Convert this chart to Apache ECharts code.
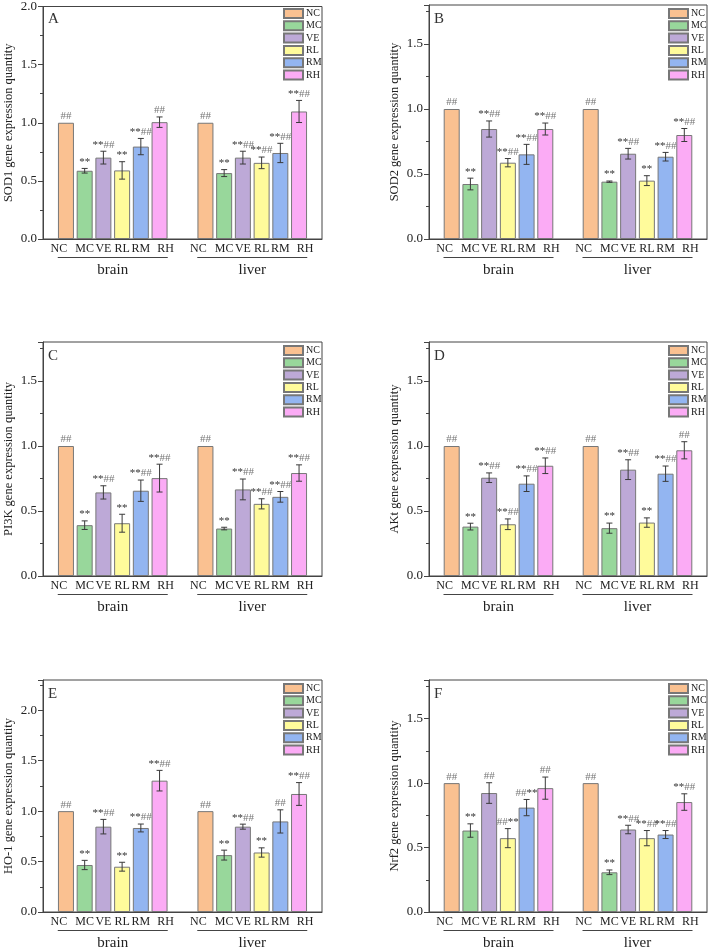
<!DOCTYPE html>
<html><head><meta charset="utf-8">
<script src="https://cdn.jsdelivr.net/npm/echarts@6/dist/echarts.min.js"></script>
<style>html,body{margin:0;padding:0;background:#fff}#c{width:709px;height:951px}</style>
</head><body><div id="c"></div>
<script>
// ---------- categories / labels ----------
const groups = ['brain', 'liver'];
const treatments = ['NC', 'MC', 'VE', 'RL', 'RM', 'RH'];
const panelLetters = ['A', 'B', 'C', 'D', 'E', 'F'];
const genes = ['SOD1', 'SOD2', 'PI3K', 'AKt', 'HO-1', 'Nrf2'];
const yMax = [2.0, 1.8, 1.8, 1.8, 2.3, 1.8];

// ---------- A: SOD1 ----------
const sod1BrainMean = [1.00, 0.587, 0.70, 0.59, 0.795, 1.005];
const sod1BrainErr  = [0, 0.02, 0.055, 0.075, 0.07, 0.045];
const sod1BrainSig  = ['##', '**', '**##', '**', '**##', '##'];
const sod1LiverMean = [1.00, 0.567, 0.70, 0.655, 0.74, 1.097];
const sod1LiverErr  = [0, 0.03, 0.055, 0.05, 0.083, 0.095];
const sod1LiverSig  = ['##', '**', '**##', '**##', '**##', '**##'];

// ---------- B: SOD2 ----------
const sod2BrainMean = [1.00, 0.423, 0.846, 0.587, 0.651, 0.846];
const sod2BrainErr  = [0, 0.045, 0.062, 0.032, 0.077, 0.046];
const sod2BrainSig  = ['##', '**', '**##', '**##', '**##', '**##'];
const sod2LiverMean = [1.00, 0.441, 0.656, 0.449, 0.633, 0.80];
const sod2LiverErr  = [0, 0.005, 0.041, 0.038, 0.033, 0.05];
const sod2LiverSig  = ['##', '**', '**##', '**', '**##', '**##'];

// ---------- C: PI3K ----------
const pi3kBrainMean = [1.00, 0.391, 0.643, 0.406, 0.656, 0.753];
const pi3kBrainErr  = [0, 0.033, 0.051, 0.069, 0.082, 0.107];
const pi3kBrainSig  = ['##', '**', '**##', '**', '**##', '**##'];
const pi3kLiverMean = [1.00, 0.365, 0.666, 0.555, 0.609, 0.792];
const pi3kLiverErr  = [0, 0.01, 0.08, 0.039, 0.041, 0.063];
const pi3kLiverSig  = ['##', '**', '**##', '**##', '**##', '**##'];

// ---------- D: AKt ----------
const aktBrainMean = [1.00, 0.380, 0.756, 0.398, 0.710, 0.848];
const aktBrainErr  = [0, 0.026, 0.037, 0.041, 0.06, 0.06];
const aktBrainSig  = ['##', '**', '**##', '**##', '**##', '**##'];
const aktLiverMean = [1.00, 0.368, 0.818, 0.411, 0.787, 0.967];
const aktLiverErr  = [0, 0.039, 0.076, 0.036, 0.059, 0.066];
const aktLiverSig  = ['##', '**', '**##', '**', '**##', '##'];

// ---------- E: HO-1 ----------
const ho1BrainMean = [1.00, 0.466, 0.846, 0.449, 0.833, 1.302];
const ho1BrainErr  = [0, 0.046, 0.072, 0.044, 0.039, 0.102];
const ho1BrainSig  = ['##', '**', '**##', '**', '**##', '**##'];
const ho1LiverMean = [1.00, 0.564, 0.846, 0.590, 0.898, 1.170];
const ho1LiverErr  = [0, 0.049, 0.025, 0.046, 0.115, 0.113];
const ho1LiverSig  = ['##', '**', '**##', '**', '##', '**##'];

// ---------- F: Nrf2 ----------
const nrf2BrainMean = [1.00, 0.632, 0.923, 0.573, 0.810, 0.961];
const nrf2BrainErr  = [0, 0.052, 0.08, 0.074, 0.063, 0.086];
const nrf2BrainSig  = ['##', '**', '##', '##**', '##**', '##'];
const nrf2LiverMean = [1.00, 0.308, 0.640, 0.573, 0.601, 0.853];
const nrf2LiverErr  = [0, 0.018, 0.033, 0.059, 0.031, 0.064];
const nrf2LiverSig  = ['##', '**', '**##', '**##', '**##', '**##'];

const panels = [
  { mean: [sod1BrainMean, sod1LiverMean], err: [sod1BrainErr, sod1LiverErr], sig: [sod1BrainSig, sod1LiverSig] },
  { mean: [sod2BrainMean, sod2LiverMean], err: [sod2BrainErr, sod2LiverErr], sig: [sod2BrainSig, sod2LiverSig] },
  { mean: [pi3kBrainMean, pi3kLiverMean], err: [pi3kBrainErr, pi3kLiverErr], sig: [pi3kBrainSig, pi3kLiverSig] },
  { mean: [aktBrainMean, aktLiverMean], err: [aktBrainErr, aktLiverErr], sig: [aktBrainSig, aktLiverSig] },
  { mean: [ho1BrainMean, ho1LiverMean], err: [ho1BrainErr, ho1LiverErr], sig: [ho1BrainSig, ho1LiverSig] },
  { mean: [nrf2BrainMean, nrf2LiverMean], err: [nrf2BrainErr, nrf2LiverErr], sig: [nrf2BrainSig, nrf2LiverSig] }
];

// ---------- styles / layout ----------
const FONT = "'Liberation Serif', 'Times New Roman', serif";
const colors = ['#FAC191', '#98D79B', '#BDA9D7', '#FFFB9B', '#93B5F1', '#FBABF5'];
const gridBoxes = [
  { left: 43, top: 5, width: 279, height: 234 },
  { left: 429, top: 5, width: 278, height: 234 },
  { left: 43, top: 342, width: 279, height: 234 },
  { left: 429, top: 342, width: 278, height: 234 },
  { left: 43, top: 680, width: 279, height: 233 },
  { left: 429, top: 680, width: 278, height: 233 }
];
const BAR_W = 16;
const BAR_GAP = 0.17;
const STEP = BAR_W * (1 + BAR_GAP);
const nameShift = [-7, 0, 0, 0, 0, 6];

function sigRich(s) {
  return s.replace(/\*\*/g, '{s|**}').replace(/##/g, '{h|##}');
}

const grid = [], xAxis = [], yAxis = [], series = [], legend = [], title = [];

panels.forEach((P, p) => {
  const g = gridBoxes[p];
  grid.push(Object.assign({ show: true, borderColor: '#444', borderWidth: 1, backgroundColor: 'transparent' }, g));
  title.push({
    text: panelLetters[p], left: g.left + 5, top: g.top + 7, padding: 0,
    textStyle: { fontSize: 15, fontWeight: 'normal', fontFamily: FONT, color: '#333' }
  });
  legend.push({
    orient: 'vertical', left: g.left + g.width - 39, top: g.top + 3, padding: 0,
    itemWidth: 19, itemHeight: 9, itemGap: 1.3, icon: 'rect', selectedMode: false,
    data: treatments,
    textStyle: { fontSize: 10, lineHeight: 10, fontFamily: FONT, color: '#222', padding: [0, 0, 0, -2] }
  });
  xAxis.push({
    type: 'category', gridIndex: p, data: groups,
    axisTick: { show: false },
    axisLine: { lineStyle: { color: '#444', width: 1 } },
    axisLabel: {
      interval: 0, margin: 18,
      formatter: v => '{ln|}\n{nm|' + v + '}',
      rich: {
        ln: { width: 110, height: 1, lineHeight: 1, backgroundColor: '#444' },
        nm: { fontSize: 15, fontFamily: FONT, color: '#222', lineHeight: 25 }
      }
    }
  });
  // major ticks + labels
  yAxis.push({
    type: 'value', gridIndex: p, min: 0, max: yMax[p], interval: 0.5, position: 'left',
    name: genes[p] + ' gene expression quantity', nameLocation: 'middle', nameGap: 28,
    nameTextStyle: { fontSize: 12.5, fontFamily: FONT, color: '#222' },
    axisLine: { show: true, lineStyle: { color: '#444', width: 1 } },
    axisTick: { show: true, inside: false, length: 5, lineStyle: { color: '#444' } },
    splitLine: { show: false },
    axisLabel: {
      margin: 6, fontSize: 13, fontFamily: FONT, color: '#222',
      formatter: v => (Math.round(v * 100) % 50 === 0 ? v.toFixed(1) : '')
    }
  });
  // minor ticks
  yAxis.push({
    type: 'value', gridIndex: p, min: 0, max: yMax[p], interval: 0.25, position: 'left',
    axisLine: { show: false },
    axisTick: { show: true, inside: false, length: 3, lineStyle: { color: '#444' } },
    axisLabel: { show: false }, splitLine: { show: false }
  });

  treatments.forEach((t, ti) => {
    series.push({
      type: 'bar', name: t, xAxisIndex: p, yAxisIndex: 2 * p,
      data: [P.mean[0][ti], P.mean[1][ti]],
      barWidth: BAR_W, barGap: (BAR_GAP * 100) + '%',
      itemStyle: { color: colors[ti], borderColor: '#777', borderWidth: 1 },
      label: {
        show: true, position: 'bottom', distance: 4, offset: [nameShift[ti], 0],
        formatter: t, fontSize: 12, fontFamily: FONT, color: '#222'
      },
      emphasis: { disabled: true }, silent: true
    });
  });

  const ebData = [];
  groups.forEach((gname, gi) => {
    treatments.forEach((t, ti) => {
      ebData.push([gi, P.mean[gi][ti], P.err[gi][ti], ti]);
    });
  });
  series.push({
    type: 'custom', xAxisIndex: p, yAxisIndex: 2 * p, z: 10, silent: true,
    encode: { x: 0, y: 1 },
    data: ebData,
    renderItem: (params, api) => {
      const gi = api.value(0), m = api.value(1), e = api.value(2), ti = api.value(3);
      const c = api.coord([gi, m]);
      const x = c[0] + (ti - 2.5) * STEP;
      const yT = api.coord([gi, m + e])[1];
      const yB = api.coord([gi, m - e])[1];
      const children = [];
      const ls = { stroke: '#3a3a3a', lineWidth: 1 };
      if (e > 0) {
        children.push({ type: 'line', shape: { x1: x, y1: yT, x2: x, y2: yB }, style: ls });
        children.push({ type: 'line', shape: { x1: x - 3, y1: yT, x2: x + 3, y2: yT }, style: ls });
        children.push({ type: 'line', shape: { x1: x - 3, y1: yB, x2: x + 3, y2: yB }, style: ls });
      }
      children.push({
        type: 'text', x: x, y: yT - 1,
        style: {
          text: sigRich(P.sig[gi][ti]), align: 'center', verticalAlign: 'bottom',
          fontSize: 11, fontFamily: FONT,
          rich: {
            s: { fontSize: 11, fontFamily: FONT, fill: '#333', color: '#333' },
            h: { fontSize: 11, fontFamily: FONT, fill: '#777', color: '#777' }
          }
        }
      });
      return { type: 'group', children };
    }
  });
});

const chart = echarts.init(document.getElementById('c'), null, { renderer: 'canvas' });
chart.setOption({
  backgroundColor: '#fff',
  animation: false,
  title, legend, grid, xAxis, yAxis, series
});
</script>
</body></html>
